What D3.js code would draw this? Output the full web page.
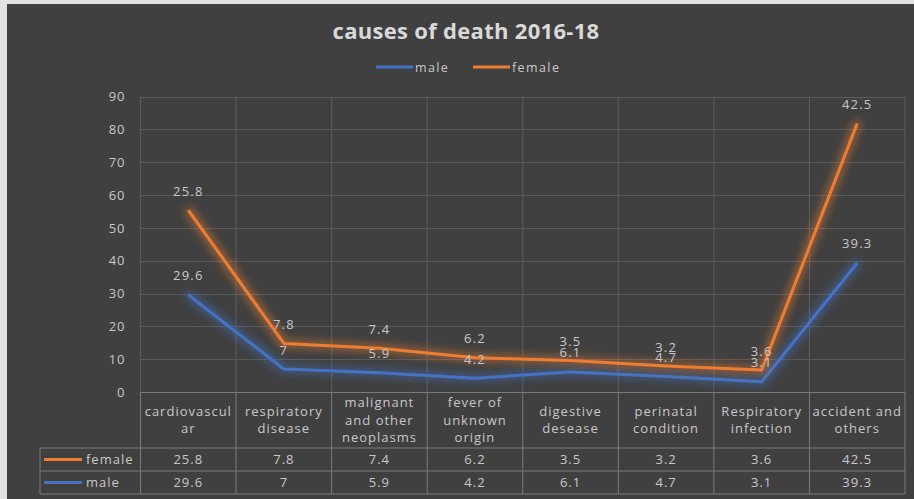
<!DOCTYPE html>
<html>
<head>
<meta charset="utf-8">
<script src="https://cdn.jsdelivr.net/npm/d3@7"></script>
<style>
html,body{margin:0;padding:0;background:#404040;}
svg{display:block;}
</style>
</head>
<body>
<svg id="chart" width="914" height="499"></svg>
<script>
const categories = [
  ["cardiovascul","ar"],
  ["respiratory","disease"],
  ["malignant","and other","neoplasms"],
  ["fever of","unknown","origin"],
  ["digestive","desease"],
  ["perinatal","condition"],
  ["Respiratory","infection"],
  ["accident and","others"]
];
const maleValues = [29.6, 7, 5.9, 4.2, 6.1, 4.7, 3.1, 39.3];
const femaleValues = [25.8, 7.8, 7.4, 6.2, 3.5, 3.2, 3.6, 42.5];
const yTicks = [0,10,20,30,40,50,60,70,80,90];
const chartTitle = "causes of death 2016-18";

(function () {
const MALE = "#4472C4", FEMALE = "#ED7D31";
const TXT = "#c8c8c8", GRID = "#5a5a5a", BORDER = "#7a7a7a";
const FONT = "'Open Sans', 'DejaVu Sans', sans-serif";
const LS = "1px";

const svg = d3.select("#chart");
const W = 914, H = 499;
svg.append("rect").attr("width", W).attr("height", H).attr("fill", "#e2e2e2");
svg.append("rect").attr("x", 7).attr("y", 4).attr("width", W - 7).attr("height", H - 4).attr("fill", "#404040");

const defs = svg.append("defs");
function glow(id, color) {
  const f = defs.append("filter").attr("id", id).attr("x", "-20%").attr("y", "-20%").attr("width", "140%").attr("height", "140%");
  f.append("feMorphology").attr("in", "SourceAlpha").attr("operator", "dilate").attr("radius", 2).attr("result", "d");
  f.append("feGaussianBlur").attr("in", "d").attr("stdDeviation", 4.5).attr("result", "b");
  f.append("feFlood").attr("flood-color", color).attr("flood-opacity", 0.55);
  f.append("feComposite").attr("in2", "b").attr("operator", "in").attr("result", "g");
  const m = f.append("feMerge");
  m.append("feMergeNode").attr("in", "g");
  m.append("feMergeNode").attr("in", "SourceGraphic");
}
glow("glowM", MALE);
glow("glowF", FEMALE);

const pLeft = 140.5, pRight = 905, pTop = 96.5, pBottom = 392;
const x = d3.scaleBand().domain(d3.range(categories.length)).range([pLeft, pRight]);
const y = d3.scaleLinear().domain([0, 90]).range([pBottom, pTop]);

// title
svg.append("text").attr("x", 466).attr("y", 38.5).attr("text-anchor", "middle")
  .attr("font-family", FONT).attr("font-weight", 700).attr("font-size", 22)
  .attr("letter-spacing", "0.3px").attr("fill", "#d9d9d9").text(chartTitle);

// legend
const lg = svg.append("g").attr("font-family", FONT).attr("font-size", 12.5).attr("letter-spacing", "1.4px").attr("fill", TXT);
[[MALE, "male", 376], [FEMALE, "female", 473]].forEach(([c, t, lx]) => {
  lg.append("line").attr("x1", lx).attr("x2", lx + 37).attr("y1", 67).attr("y2", 67).attr("stroke", c).attr("stroke-width", 3);
  lg.append("text").attr("x", lx + 39).attr("y", 71.5).text(t);
});

// gridlines
const g = svg.append("g");
g.selectAll("line.h").data(yTicks.filter(d => d > 0)).join("line")
  .attr("x1", pLeft).attr("x2", pRight).attr("y1", d => Math.round(y(d)) + 0.5).attr("y2", d => Math.round(y(d)) + 0.5)
  .attr("stroke", GRID).attr("stroke-width", 1.2);
const bounds = d3.range(categories.length + 1).map(i => i < categories.length ? x(i) : pRight);
g.selectAll("line.v").data(bounds).join("line")
  .attr("x1", d => d).attr("x2", d => d).attr("y1", pTop).attr("y2", pBottom)
  .attr("stroke", GRID).attr("stroke-width", 1.2);

// y axis labels
const yAxis = d3.axisLeft(y).tickValues(yTicks).tickSize(0).tickPadding(0);
const ya = svg.append("g").attr("transform", `translate(${pLeft - 15},0)`).call(yAxis);
ya.select(".domain").remove();
ya.selectAll("text").attr("font-family", FONT).attr("font-size", 13).attr("letter-spacing", LS).attr("fill", TXT);

// lines (stacked)
const femaleStack = femaleValues.map((v, i) => v + maleValues[i]);
const cx = i => x(i) + x.bandwidth() / 2;
const line = d3.line().x((d, i) => cx(i)).y(d => y(d));
svg.append("path").datum(maleValues).attr("d", line).attr("fill", "none")
  .attr("stroke", MALE).attr("stroke-width", 3).attr("stroke-linejoin", "round").attr("filter", "url(#glowM)");
svg.append("path").datum(femaleStack).attr("d", line).attr("fill", "none")
  .attr("stroke", FEMALE).attr("stroke-width", 3).attr("stroke-linejoin", "round").attr("filter", "url(#glowF)");

// data labels
const lab = svg.append("g").attr("font-family", FONT).attr("font-size", 13).attr("letter-spacing", "1.2px").attr("fill", TXT).attr("text-anchor", "middle");
maleValues.forEach((v, i) => lab.append("text").attr("x", cx(i)).attr("y", y(v) - 14.5).text(v));
femaleValues.forEach((v, i) => lab.append("text").attr("x", cx(i)).attr("y", y(femaleStack[i]) - 14.5).text(v));

// data table
const tbl = svg.append("g").attr("font-family", FONT).attr("font-size", 13).attr("letter-spacing", LS).attr("fill", TXT);
const hdrBottom = 448, row1 = 471, row2 = 494, tLeft = 40;
const bl = (x1, y1, x2, y2) => tbl.append("line").attr("x1", x1).attr("y1", y1).attr("x2", x2).attr("y2", y2).attr("stroke", BORDER).attr("stroke-width", 1);
bl(pLeft, pBottom + 0.5, pRight, pBottom + 0.5);
bl(tLeft, hdrBottom, pRight, hdrBottom);
bl(tLeft, row1, pRight, row1);
bl(tLeft, row2, pRight, row2);
bl(tLeft, hdrBottom, tLeft, row2);
bounds.forEach(b => bl(b, pBottom, b, row2));
categories.forEach((lines, i) => {
  const n = lines.length, step = 17.5, c0 = (pBottom + hdrBottom) / 2 - (n - 1) * step / 2;
  lines.forEach((t, k) => tbl.append("text").attr("x", cx(i)).attr("y", c0 + k * step + 4.5).attr("text-anchor", "middle").text(t));
});
[[FEMALE, "female", femaleValues, (hdrBottom + row1) / 2], [MALE, "male", maleValues, (row1 + row2) / 2]].forEach(([c, t, vals, cy]) => {
  tbl.append("line").attr("x1", 44).attr("x2", 82).attr("y1", cy).attr("y2", cy).attr("stroke", c).attr("stroke-width", 3);
  tbl.append("text").attr("x", 86).attr("y", cy + 4.5).text(t);
  vals.forEach((v, i) => tbl.append("text").attr("x", cx(i)).attr("y", cy + 4.5).attr("text-anchor", "middle").text(v));
});
})();
</script>
</body>
</html>
